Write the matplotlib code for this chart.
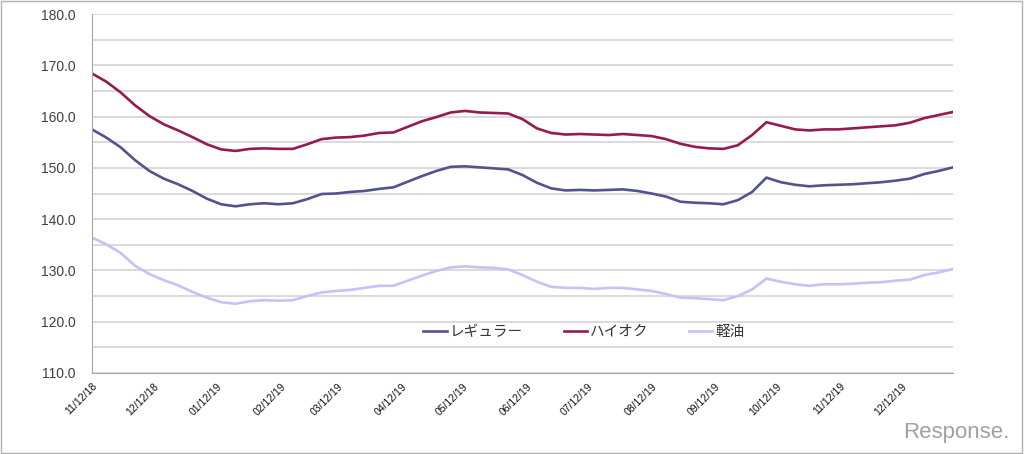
import pandas as pd
import matplotlib
matplotlib.use('Agg')
import matplotlib.pyplot as plt
import matplotlib.dates as mdates
from matplotlib.ticker import MultipleLocator, FormatStrFormatter
from matplotlib.patches import Rectangle

plt.rcParams['font.family'] = ['Liberation Sans', 'Noto Sans CJK JP', 'DejaVu Sans']

# weekly prices (yen / litre), first survey 2018-11-12
start_date = '2018-11-12'
regular = [157.5, 155.9, 154.0, 151.5, 149.4, 147.9, 146.8, 145.5, 144.0, 142.9,
           142.5, 142.9, 143.1, 142.9, 143.1, 143.9, 144.9, 145.0, 145.3, 145.5,
           145.9, 146.2, 147.3, 148.4, 149.4, 150.2, 150.3, 150.1, 149.9, 149.7,
           148.6, 147.1, 146.0, 145.6, 145.7, 145.6, 145.7, 145.8, 145.5, 145.0,
           144.4, 143.4, 143.2, 143.1, 142.9, 143.7, 145.3, 148.1, 147.2, 146.7,
           146.4, 146.6, 146.7, 146.8, 147.0, 147.2, 147.5, 147.9, 148.8, 149.4,
           150.1]
high_octane = [168.4, 166.8, 164.7, 162.2, 160.1, 158.5, 157.3, 156.0, 154.6, 153.6,
               153.3, 153.7, 153.8, 153.7, 153.7, 154.6, 155.6, 155.9, 156.0, 156.3,
               156.8, 156.9, 158.0, 159.1, 159.9, 160.8, 161.1, 160.8, 160.7, 160.6,
               159.5, 157.7, 156.8, 156.5, 156.6, 156.5, 156.4, 156.6, 156.4, 156.2,
               155.6, 154.7, 154.1, 153.8, 153.7, 154.4, 156.4, 158.9, 158.2, 157.5,
               157.3, 157.5, 157.5, 157.7, 157.9, 158.1, 158.3, 158.8, 159.7, 160.3,
               160.9]
diesel = [136.4, 135.1, 133.4, 130.9, 129.3, 128.1, 127.1, 125.8, 124.7, 123.8,
          123.5, 124.0, 124.2, 124.1, 124.2, 125.0, 125.7, 126.0, 126.2, 126.6,
          127.0, 127.0, 128.0, 129.0, 129.9, 130.6, 130.8, 130.6, 130.5, 130.2,
          129.1, 127.8, 126.8, 126.6, 126.6, 126.4, 126.6, 126.6, 126.3, 126.0,
          125.4, 124.7, 124.6, 124.4, 124.2, 125.0, 126.3, 128.4, 127.8, 127.3,
          127.0, 127.3, 127.3, 127.4, 127.6, 127.7, 128.0, 128.2, 129.1, 129.6,
          130.3]
series_names = ['レギュラー', 'ハイオク', '軽油']

dates = pd.date_range(start=start_date, periods=len(regular), freq='7D')
tick_dates = pd.date_range(start='2018-11-12', end='2019-12-12', freq=pd.DateOffset(months=1))

fig = plt.figure(figsize=(10.24, 4.54), dpi=100)
ax = fig.add_axes([92/1024, 1 - 373/454, (953 - 92)/1024, (373 - 14)/454])

ax.plot(dates, regular, color='#52528E', lw=1.9, label=series_names[0])
ax.plot(dates, high_octane, color='#951A52', lw=1.9, label=series_names[1])
ax.plot(dates, diesel, color='#C3C3FA', lw=1.9, label=series_names[2])

ax.set_ylim(110, 180)
ax.set_xlim(dates[0], dates[-1])
ax.yaxis.set_major_locator(MultipleLocator(10))
ax.yaxis.set_minor_locator(MultipleLocator(5))
ax.yaxis.set_major_formatter(FormatStrFormatter('%.1f'))
ax.grid(True, axis='y', which='both', color='#d4d4d4', lw=1.2)
ax.set_axisbelow(True)

ax.set_xticks(tick_dates)
ax.xaxis.set_major_formatter(mdates.DateFormatter('%m/%d/%y'))
for lbl in ax.get_xticklabels():
    lbl.set_rotation(45)
    lbl.set_ha('right')
    lbl.set_rotation_mode('anchor')
    lbl.set_fontsize(7.5)
    lbl.set_color('#111111')

ax.tick_params(axis='y', which='both', length=0, pad=12, labelsize=10, labelcolor='#404040')
ax.tick_params(axis='x', length=0, pad=6)

for side in ['top', 'right']:
    ax.spines[side].set_visible(False)
ax.spines['left'].set_color('#a6a6a6')
ax.spines['bottom'].set_color('#a6a6a6')

leg = ax.legend(loc='center', bbox_to_anchor=(584/1024, 1 - 332/454), bbox_transform=fig.transFigure,
                ncol=3, frameon=False, handlelength=1.6, handletextpad=0.2,
                columnspacing=2.8, prop={'family': ['Noto Sans CJK JP', 'DejaVu Sans'], 'size': 10.5})
for t in leg.get_texts():
    t.set_color('#333333')

fig.text(0.986, 0.025, 'Response.', ha='right', va='bottom', fontsize=16, color='#a0a0a0')
fig.patches.append(Rectangle((0.001, 0.002), 0.997, 0.995, transform=fig.transFigure,
                             fill=False, edgecolor='#b0b0b0', lw=1.0))

fig.savefig('out.png', dpi=100)
